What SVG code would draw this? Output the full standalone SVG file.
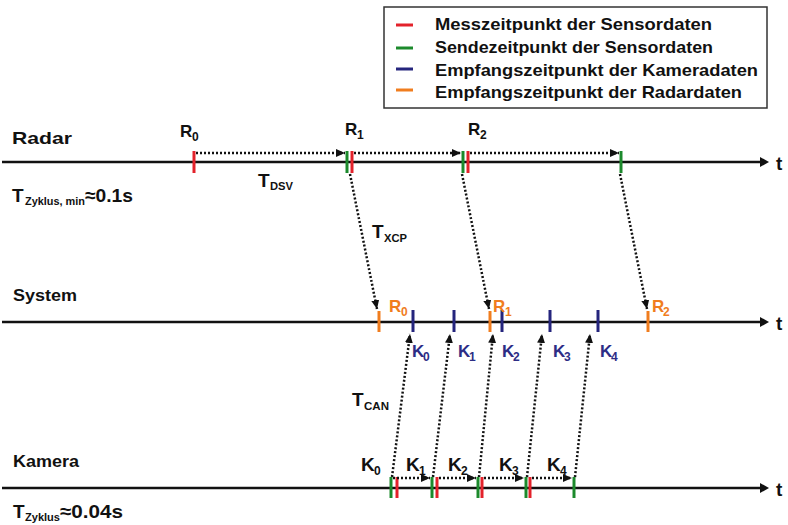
<svg xmlns="http://www.w3.org/2000/svg" width="788" height="525" viewBox="0 0 788 525">
<style>
text{font-family:"Liberation Sans",Arial,sans-serif;font-weight:bold;fill:#111}
.l{font-size:17px}
.b{font-size:19px}
.s{font-size:11px}
.s2{font-size:12px}
.ax{stroke:#111;stroke-width:2.5}
.dot{stroke:#111;stroke-width:2.5;stroke-dasharray:2 2;fill:none}
.tk{stroke-width:3}
.r{stroke:#e3222b}.g{stroke:#1c8a2c}.bl{stroke:#25257d}.o{stroke:#f07d1e}
.ot{fill:#f07d1e}.bt{fill:#2d2d85}
</style>
<defs>
<marker id="ah" markerUnits="userSpaceOnUse" markerWidth="10" markerHeight="8" refX="9" refY="4" orient="auto">
<path d="M0,0 L9,4 L0,8 z" fill="#111"/>
</marker>
</defs>

<g id="legend">
<rect x="384" y="7" width="383" height="101" fill="#fff" stroke="#333" stroke-width="1.5"/>
<line x1="396" y1="25" x2="413" y2="25" class="tk r"/>
<line x1="396" y1="48" x2="413" y2="48" class="tk g"/>
<line x1="396" y1="69" x2="413" y2="69" class="tk bl"/>
<line x1="396" y1="90" x2="413" y2="90" class="tk o"/>
<text class="l" x="435" y="30" textLength="277" lengthAdjust="spacingAndGlyphs">Messzeitpunkt der Sensordaten</text>
<text class="l" x="435" y="53" textLength="278" lengthAdjust="spacingAndGlyphs">Sendezeitpunkt der Sensordaten</text>
<text class="l" x="435" y="76" textLength="323" lengthAdjust="spacingAndGlyphs">Empfangszeitpunkt der Kameradaten</text>
<text class="l" x="435" y="98" textLength="307" lengthAdjust="spacingAndGlyphs">Empfangszeitpunkt der Radardaten</text>
</g>

<g id="radar">
<line x1="2" y1="162" x2="762" y2="162" class="ax"/>
<path d="M760,157 L769,162 L760,167 z" fill="#111"/>
<text class="b" x="776" y="170">t</text>
<text class="l" x="12" y="144" textLength="60" lengthAdjust="spacingAndGlyphs">Radar</text>
<text class="b" x="12" y="202">T</text><text class="s" x="25" y="205" textLength="60" lengthAdjust="spacingAndGlyphs">Zyklus, min</text><text class="b" x="85" y="202" textLength="48" lengthAdjust="spacingAndGlyphs">≈0.1s</text>
<line x1="194" y1="151" x2="194" y2="173" class="tk r"/>
<line x1="347" y1="151" x2="347" y2="173" class="tk g"/>
<line x1="352" y1="151" x2="352" y2="173" class="tk r"/>
<line x1="463" y1="151" x2="463" y2="173" class="tk g"/>
<line x1="468" y1="151" x2="468" y2="173" class="tk r"/>
<line x1="621" y1="151" x2="621" y2="173" class="tk g"/>
<text class="l" x="180" y="137">R</text><text class="s2" x="192" y="141">0</text>
<text class="l" x="345" y="135">R</text><text class="s2" x="357" y="139">1</text>
<text class="l" x="468" y="135">R</text><text class="s2" x="480" y="139">2</text>
<text class="b" x="258" y="187">T</text><text class="s" x="270" y="190" textLength="23" lengthAdjust="spacingAndGlyphs">DSV</text>
</g>

<g id="system">
<line x1="2" y1="322" x2="762" y2="322" class="ax"/>
<path d="M760,317 L769,322 L760,327 z" fill="#111"/>
<text class="b" x="776" y="330">t</text>
<text class="l" x="13" y="301" textLength="64" lengthAdjust="spacingAndGlyphs">System</text>
<line x1="379" y1="311" x2="379" y2="332" class="tk o"/>
<line x1="490" y1="311" x2="490" y2="332" class="tk o"/>
<line x1="648" y1="311" x2="648" y2="332" class="tk o"/>
<line x1="413" y1="310" x2="413" y2="332" class="tk bl"/>
<line x1="454" y1="310" x2="454" y2="332" class="tk bl"/>
<line x1="502" y1="310" x2="502" y2="332" class="tk bl"/>
<line x1="550" y1="310" x2="550" y2="332" class="tk bl"/>
<line x1="598" y1="310" x2="598" y2="332" class="tk bl"/>
<text class="l ot" x="389" y="312">R</text><text class="s2 ot" x="401" y="316">0</text>
<text class="l ot" x="493" y="312">R</text><text class="s2 ot" x="505" y="316">1</text>
<text class="l ot" x="652" y="312">R</text><text class="s2 ot" x="663" y="316">2</text>
<text class="l bt" x="412" y="357">K</text><text class="s2 bt" x="423" y="361">0</text>
<text class="l bt" x="458" y="357">K</text><text class="s2 bt" x="469" y="361">1</text>
<text class="l bt" x="502" y="357">K</text><text class="s2 bt" x="513" y="361">2</text>
<text class="l bt" x="553" y="357">K</text><text class="s2 bt" x="564" y="361">3</text>
<text class="l bt" x="600" y="357">K</text><text class="s2 bt" x="611" y="361">4</text>
</g>

<g id="kamera">
<line x1="2" y1="488" x2="762" y2="488" class="ax"/>
<path d="M760,483 L769,488 L760,493 z" fill="#111"/>
<text class="b" x="776" y="496">t</text>
<text class="l" x="13" y="467" textLength="66" lengthAdjust="spacingAndGlyphs">Kamera</text>
<text class="b" x="13" y="518">T</text><text class="s" x="25" y="521" textLength="35" lengthAdjust="spacingAndGlyphs">Zyklus</text><text class="b" x="60" y="518" textLength="63" lengthAdjust="spacingAndGlyphs">≈0.04s</text>
<line x1="391" y1="477" x2="391" y2="498" class="tk g"/>
<line x1="397" y1="477" x2="397" y2="498" class="tk r"/>
<line x1="432" y1="477" x2="432" y2="498" class="tk g"/>
<line x1="437" y1="477" x2="437" y2="498" class="tk r"/>
<line x1="478" y1="477" x2="478" y2="498" class="tk g"/>
<line x1="482" y1="477" x2="482" y2="498" class="tk r"/>
<line x1="526" y1="477" x2="526" y2="498" class="tk g"/>
<line x1="530" y1="477" x2="530" y2="498" class="tk r"/>
<line x1="574" y1="477" x2="574" y2="498" class="tk g"/>
<text class="b" x="361" y="471">K</text><text class="s2" x="374" y="475">0</text>
<text class="b" x="406" y="471">K</text><text class="s2" x="419" y="475">1</text>
<text class="b" x="448" y="471">K</text><text class="s2" x="461" y="475">2</text>
<text class="b" x="499" y="471">K</text><text class="s2" x="512" y="475">3</text>
<text class="b" x="547" y="471">K</text><text class="s2" x="560" y="475">4</text>
<text class="b" x="352" y="406">T</text><text class="s" x="364" y="410" textLength="25" lengthAdjust="spacingAndGlyphs">CAN</text>
<text class="b" x="372" y="238">T</text><text class="s" x="384" y="242" textLength="23" lengthAdjust="spacingAndGlyphs">XCP</text>
</g>

<g id="connectors">
<line x1="196" y1="153" x2="345" y2="153" class="dot" marker-end="url(#ah)"/>
<line x1="354" y1="153" x2="461" y2="153" class="dot" marker-end="url(#ah)"/>
<line x1="470" y1="153" x2="619" y2="153" class="dot" marker-end="url(#ah)"/>
<line x1="350" y1="174" x2="377" y2="309" class="dot" marker-end="url(#ah)"/>
<line x1="462" y1="174" x2="489" y2="309" class="dot" marker-end="url(#ah)"/>
<line x1="620" y1="174" x2="647" y2="309" class="dot" marker-end="url(#ah)"/>
<line x1="393" y1="478" x2="430" y2="478" class="dot" marker-end="url(#ah)"/>
<line x1="439" y1="478" x2="476" y2="478" class="dot" marker-end="url(#ah)"/>
<line x1="484" y1="478" x2="524" y2="478" class="dot" marker-end="url(#ah)"/>
<line x1="532" y1="478" x2="572" y2="478" class="dot" marker-end="url(#ah)"/>
<line x1="392" y1="477" x2="410" y2="334" class="dot" marker-end="url(#ah)"/>
<line x1="433" y1="477" x2="450" y2="334" class="dot" marker-end="url(#ah)"/>
<line x1="479" y1="477" x2="493" y2="334" class="dot" marker-end="url(#ah)"/>
<line x1="527" y1="477" x2="542" y2="334" class="dot" marker-end="url(#ah)"/>
<line x1="575" y1="477" x2="590" y2="334" class="dot" marker-end="url(#ah)"/>
</g>
</svg>
